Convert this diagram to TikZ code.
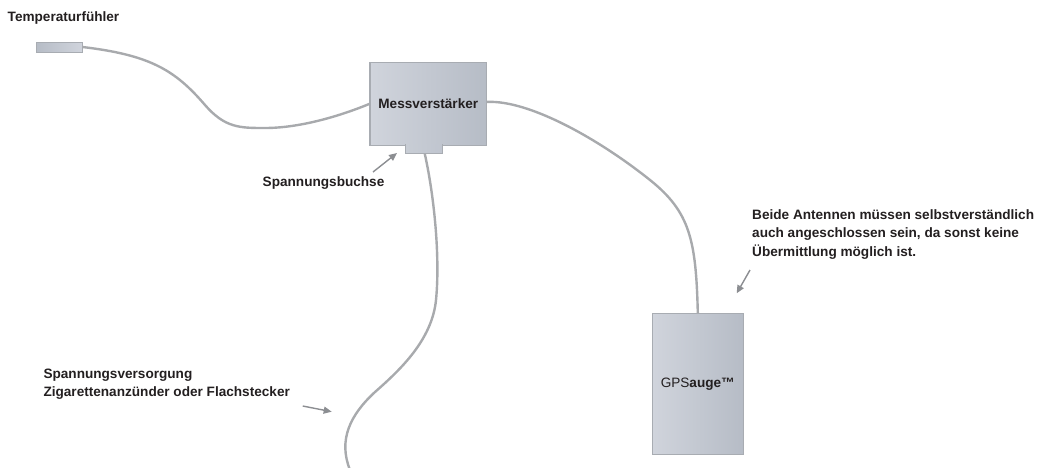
\documentclass[tikz,border=0pt]{standalone}
\usepackage{fontspec}
\setmainfont{Liberation Sans}
\usepackage{xcolor}
\usepackage{tikz}
\usetikzlibrary{arrows.meta}
\definecolor{textdark}{RGB}{35, 31, 32}
\definecolor{cablegray}{RGB}{168, 170, 173}
\definecolor{arrowgray}{RGB}{140, 142, 146}
\definecolor{boxlight}{RGB}{208, 212, 220}
\definecolor{boxdark}{RGB}{182, 188, 198}
\definecolor{boxline}{RGB}{168, 172, 178}
\definecolor{notchlight}{RGB}{200, 205, 213}
\definecolor{notchdark}{RGB}{192, 197, 207}

\begin{document}
\begin{tikzpicture}[x=1pt, y=-1pt,
    every node/.style={font=\fontsize{13.6}{18.4}\selectfont\bfseries, text=textdark, inner sep=0pt},
    device/.style={draw=boxline, line width=1.1pt, left color=boxlight, right color=boxdark},
    cable/.style={draw=cablegray, line width=2.4pt},
    pointer/.style={draw=arrowgray, line width=1.4pt, -{Triangle[length=8pt, width=7pt]}},
    note/.style={align=left}]
    \useasboundingbox (0,0) rectangle (1038,467);

    % Geraete
    \node[device, line width=1pt, minimum width=46pt, minimum height=10pt, left color=boxdark, right color=boxlight] (fuehler) at (59,47) {};
    \node[device, minimum width=116.7pt, minimum height=82.3pt] (mv) at (428.3,103.9) {Messverstärker};
    \node[device, draw=none, minimum width=35.7pt, minimum height=8.8pt, left color=notchlight, right color=notchdark] (buchse) at (423.8,148.9) {};
    \draw[draw=boxline, line width=1.1pt] (buchse.north west) |- (buchse.south east) -- (buchse.north east);
    \node[device, minimum width=91pt, minimum height=140.7pt] (gps) at (697.8,383.7) {{\mdseries GPS}auge™};

    % Beschriftungen
    \node[anchor=base west] (fuehlerlabel) at (7.5,21) {Temperaturfühler};
    \node[anchor=base west] (buchselabel) at (262.5,186.5) {Spannungsbuchse};
    \node[note, anchor=north west] (versorgung) at (43.3,368.3) {Spannungsversorgung\\Zigarettenanzünder oder Flachstecker};
    \node[note, anchor=north west] (antennen) at (752,209.3) {Beide Antennen müssen selbstverständlich\\auch angeschlossen sein, da sonst keine\\Übermittlung möglich ist.};

    % Kabel
    \coordinate (stecker) at (350,470);
    \draw[cable] (fuehler.east) .. controls (150,55) and (175,70) .. (205,105)
        .. controls (225,128) and (240,128) .. (265,128)
        .. controls (300,128) and (340,116) .. (mv.west);
    \draw[cable] ([yshift=2pt]mv.east) .. controls (530,100) and (600,140) .. (650,180)
        .. controls (690,212) and (696,240) .. (gps.north);
    \draw[cable] ([xshift=1pt]buchse.south) .. controls (435,200) and (440,260) .. (436,300)
        .. controls (432,340) and (400,370) .. (375,392)
        .. controls (350,415) and (338,440) .. (stecker);

    % Hinweispfeile
    \coordinate (buchsefrom) at (373,172);
    \coordinate (buchseto) at (397,153);
    \coordinate (versorgungfrom) at (302.7,406);
    \coordinate (versorgungto) at (331.7,411.7);
    \coordinate (antennenfrom) at (750,270);
    \coordinate (antennento) at (736.7,293.3);
    \draw[pointer] (buchsefrom) -- (buchseto);
    \draw[pointer] (versorgungfrom) -- (versorgungto);
    \draw[pointer] (antennenfrom) -- (antennento);
\end{tikzpicture}
\end{document}
